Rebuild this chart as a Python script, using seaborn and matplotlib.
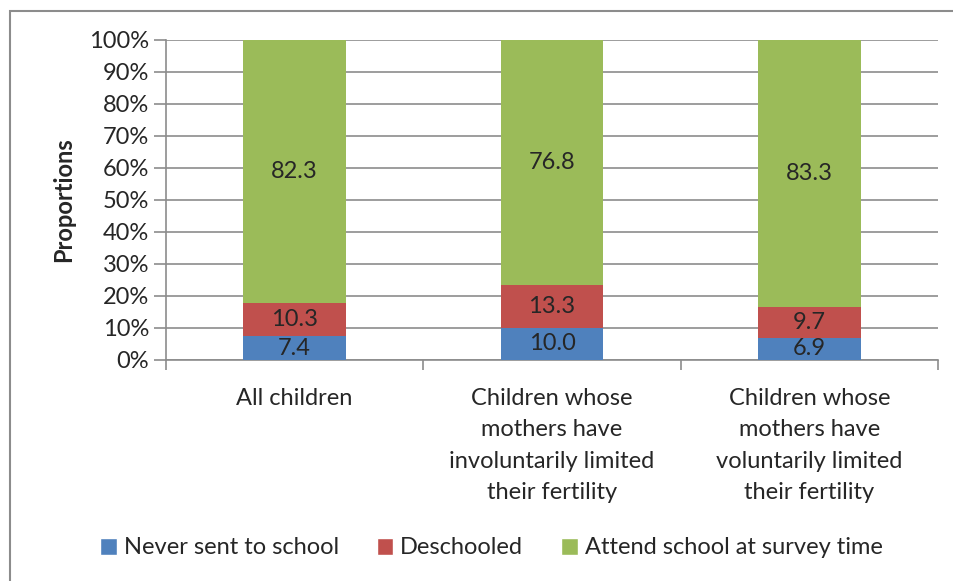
import pandas as pd
import matplotlib.pyplot as plt
import seaborn as sns
from matplotlib.patches import Rectangle, Patch
from matplotlib.ticker import PercentFormatter, FixedLocator

# Datos
categorias = ["All children",
              "Children whose\nmothers have\ninvoluntarily limited\ntheir fertility",
              "Children whose\nmothers have\nvoluntarily limited\ntheir fertility"]
never_sent = [7.4, 10.0, 6.9]
deschooled = [10.3, 13.3, 9.7]
attend = [82.3, 76.8, 83.3]
series = ["Never sent to school", "Deschooled", "Attend school at survey time"]
colores = ["#4F81BD", "#C0504D", "#9BBB59"]

sns.set_style("white")
plt.rcParams['font.family'] = ['Lato', 'DejaVu Sans']
FS = 17

df = pd.DataFrame({"cat": categorias, "never": never_sent,
                   "desc": deschooled, "att": attend})
df["c1"] = df["never"]
df["c2"] = df["never"] + df["desc"]
df["c3"] = df["c2"] + df["att"]

fig = plt.figure(figsize=(9.54, 5.81), dpi=100)
ax = fig.add_axes([166/954, 1 - 360/581, (938-166)/954, 320/581])

# barras apiladas: de arriba hacia abajo
for col, color in zip(["c3", "c2", "c1"], colores[::-1]):
    sns.barplot(data=df, x="cat", y=col, color=color, width=0.4,
                saturation=1, linewidth=0, ax=ax, zorder=3)

# etiquetas centradas en cada segmento
for i, r in df.iterrows():
    for base, val in [(0, r["never"]), (r["c1"], r["desc"]), (r["c2"], r["att"])]:
        ax.text(i, base + val / 2, f"{val:.1f}", ha="center", va="center",
                fontsize=FS, zorder=4)

ax.set_ylim(0, 100)
ax.set_xlim(-0.5, 2.5)
ax.yaxis.set_major_locator(FixedLocator(range(0, 101, 10)))
ax.yaxis.set_major_formatter(PercentFormatter(decimals=0))
ax.grid(axis="y", color="#8c8c8c", linewidth=1.2, zorder=0)
ax.set_ylabel("Proportions", fontsize=FS, fontweight="bold", labelpad=10)
ax.set_xlabel("")
ax.tick_params(axis="y", labelsize=FS, length=9, width=1.2, color="#8c8c8c",
               left=True, pad=3)
ax.set_xticks([0, 1, 2])
ax.set_xticklabels(categorias, fontsize=FS, linespacing=1.62)
ax.tick_params(axis="x", length=0, pad=20)
ax.xaxis.set_minor_locator(FixedLocator([-0.5, 0.5, 1.5, 2.5]))
ax.tick_params(axis="x", which="minor", length=7, width=1.2, color="#8c8c8c",
               bottom=True)
for s in ["top", "right"]:
    ax.spines[s].set_visible(False)
for s in ["left", "bottom"]:
    ax.spines[s].set_color("#8c8c8c")
    ax.spines[s].set_linewidth(1.2)

handles = [Patch(facecolor=c, label=l) for c, l in zip(colores, series)]
fig.legend(handles=handles, loc="center", bbox_to_anchor=(0.515, 1 - 548/581),
           ncol=3, frameon=False, fontsize=FS, handlelength=0.7,
           handleheight=0.7, handletextpad=0.3, columnspacing=1.6)

# marco exterior
fig.patches.append(Rectangle((10/954, -0.05), 1.1, 1.05 - 11/581,
                             transform=fig.transFigure, fill=False,
                             edgecolor="#8c8c8c", linewidth=1.5))

fig.savefig("out.png", dpi=100)
